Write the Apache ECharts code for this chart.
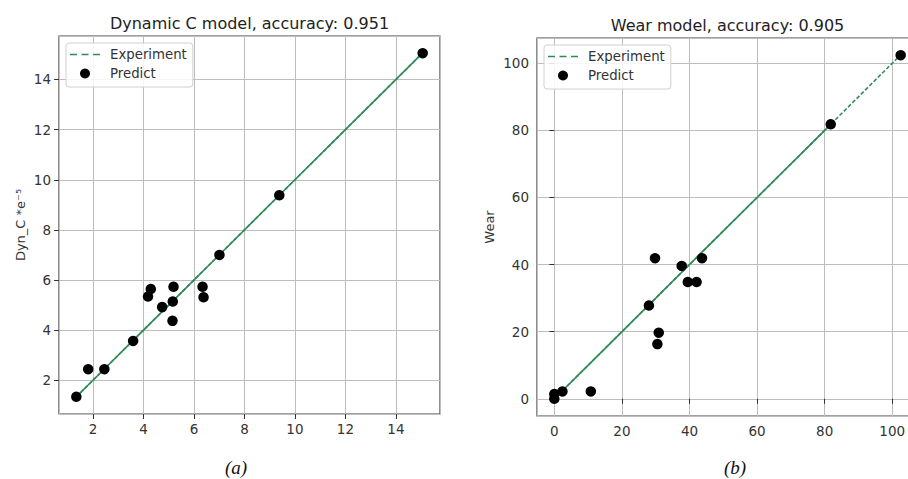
<!DOCTYPE html>
<html>
<head>
<meta charset="utf-8">
<script src="https://cdn.jsdelivr.net/npm/echarts@6/dist/echarts.min.js"></script>
<style>html,body{margin:0;padding:0;background:#fff}#c{width:908px;height:479px}</style>
</head>
<body>
<div id="c"></div>
<script>
// Panel (a): Dynamic C model
var dynExperiment = [1.34, 1.81, 2.45, 3.59, 4.18, 4.29, 4.74, 5.19, 5.16, 5.15, 6.34, 6.38, 7.01, 9.38, 15.06];
var dynPredict    = [1.34, 2.44, 2.44, 3.57, 5.34, 5.64, 4.92, 5.73, 5.14, 4.37, 5.73, 5.31, 7.00, 9.38, 15.05];
// Panel (b): Wear model
var wearExperiment = [0, 0, 2.4, 10.8, 28.0, 29.8, 30.9, 30.5, 37.7, 39.5, 42.1, 43.7, 81.8, 102.5];
var wearPredict    = [0, 1.4, 2.2, 2.2, 27.8, 41.9, 19.7, 16.3, 39.6, 34.8, 34.8, 41.9, 81.8, 102.4];
var titles = ['Dynamic C model, accuracy: 0.951', 'Wear model, accuracy: 0.905'];
var panelLabels = ['(a)', '(b)'];
var yNames = ['Dyn_C *e\u207B\u2075', 'Wear'];
var legendNames = ['Experiment', 'Predict'];

function pairs(xs, ys) { return xs.map(function (x, i) { return [x, ys[i]]; }); }
function diag(xs) { return xs.slice().sort(function (a, b) { return a - b; }).map(function (v) { return [v, v]; }); }
function range(arr) {
  var mn = Math.min.apply(null, arr), mx = Math.max.apply(null, arr), m = (mx - mn) * 0.05;
  return [mn - m, mx + m];
}

var GREEN = '#2e8b57';
var dynX = range(dynExperiment), dynY = range(dynPredict);
var wearX = range(wearExperiment), wearY = range(wearPredict);
var FONT = 'DejaVu Sans';
var DASH_ICON = 'path://M0,0h7v1.6h-7z M11.5,0h7v1.6h-7z M23,0h7v1.6h-7z';

function xAxis(idx, r, interval, split) {
  return {
    type: 'value', gridIndex: idx, min: r[0], max: r[1], splitNumber: split,
    minInterval: interval, maxInterval: interval,
    axisLine: { show: false },
    axisTick: { show: true, length: 5, lineStyle: { color: '#333' } },
    axisLabel: { margin: 8, color: '#333', fontSize: 13.5, fontFamily: FONT, showMinLabel: false, showMaxLabel: false },
    splitLine: { show: true, lineStyle: { color: '#bdbdbd', width: 1 } }
  };
}
function yAxis(idx, r, interval, split, name, gap) {
  var a = xAxis(idx, r, interval, split);
  a.name = name; a.nameLocation = 'middle'; a.nameGap = gap;
  a.nameTextStyle = { color: '#333', fontSize: 13, fontFamily: FONT };
  a.axisLabel.margin = 8;
  return a;
}
function legendCfg(left, top) {
  return {
    orient: 'vertical', left: left, top: top,
    data: [
      { name: legendNames[0], icon: DASH_ICON, itemStyle: { color: GREEN } },
      { name: legendNames[1], icon: 'circle' }
    ],
    itemWidth: 30, itemHeight: 10, itemGap: 6, symbolKeepAspect: true,
    padding: [5, 6, 7, 4],
    borderColor: '#d0d0d0', borderWidth: 1, borderRadius: 3,
    backgroundColor: 'rgba(255,255,255,0.85)',
    textStyle: { color: '#333', fontSize: 13.3, fontFamily: FONT, padding: [0, 0, 0, 5] }
  };
}

var chart = echarts.init(document.getElementById('c'), null, { renderer: 'svg' });
chart.setOption({
  animation: false,
  backgroundColor: '#fff',
  grid: [
    { left: 59, top: 36, width: 381, height: 378, show: true, borderColor: '#444', borderWidth: 1.2, backgroundColor: 'transparent', outerBoundsMode: 'none' },
    { left: 537, top: 38, width: 381, height: 378, show: true, borderColor: '#444', borderWidth: 1.2, backgroundColor: 'transparent', outerBoundsMode: 'none' }
  ],
  xAxis: [xAxis(0, dynX, 2, 7), xAxis(1, wearX, 20, 5)],
  yAxis: [yAxis(0, dynY, 2, 7, yNames[0], 32), yAxis(1, wearY, 20, 5, yNames[1], 41)],
  legend: [legendCfg(66, 43), legendCfg(544, 45)],
  graphic: [
    { type: 'text', x: 249.5, y: 23, style: { text: titles[0], textAlign: 'center', textVerticalAlign: 'middle', fill: '#222', font: '16px "DejaVu Sans"' } },
    { type: 'text', x: 727.5, y: 25, style: { text: titles[1], textAlign: 'center', textVerticalAlign: 'middle', fill: '#222', font: '16px "DejaVu Sans"' } },
    { type: 'text', x: 236, y: 467, style: { text: panelLabels[0], textAlign: 'center', textVerticalAlign: 'middle', fill: '#111', font: 'italic 19px "Liberation Serif"' } },
    { type: 'text', x: 735, y: 467, style: { text: panelLabels[1], textAlign: 'center', textVerticalAlign: 'middle', fill: '#111', font: 'italic 19px "Liberation Serif"' } }
  ],
  series: [
    { name: 'Experiment', type: 'line', xAxisIndex: 0, yAxisIndex: 0, data: diag(dynExperiment), symbol: 'none',
      lineStyle: { color: GREEN, width: 1.6, type: [4, 2] }, itemStyle: { color: GREEN }, z: 3 },
    { name: 'solid-a', type: 'line', xAxisIndex: 0, yAxisIndex: 0, data: diag(dynExperiment), symbol: 'none',
      lineStyle: { color: GREEN, width: 1.6 }, z: 3, silent: true },
    { name: 'Predict', type: 'scatter', xAxisIndex: 0, yAxisIndex: 0, data: pairs(dynExperiment, dynPredict),
      symbolSize: 10.5, itemStyle: { color: '#000', opacity: 1 }, z: 4 },
    { name: 'Experiment', type: 'line', xAxisIndex: 1, yAxisIndex: 1, data: diag(wearExperiment), symbol: 'none',
      lineStyle: { color: GREEN, width: 1.6, type: [4, 2] }, itemStyle: { color: GREEN }, z: 3 },
    { name: 'solid-b', type: 'line', xAxisIndex: 1, yAxisIndex: 1, data: diag(wearExperiment).slice(0, -1), symbol: 'none',
      lineStyle: { color: GREEN, width: 1.6 }, z: 3, silent: true },
    { name: 'Predict', type: 'scatter', xAxisIndex: 1, yAxisIndex: 1, data: pairs(wearExperiment, wearPredict),
      symbolSize: 10.5, itemStyle: { color: '#000', opacity: 1 }, z: 4 }
  ]
});
</script>
</body>
</html>
